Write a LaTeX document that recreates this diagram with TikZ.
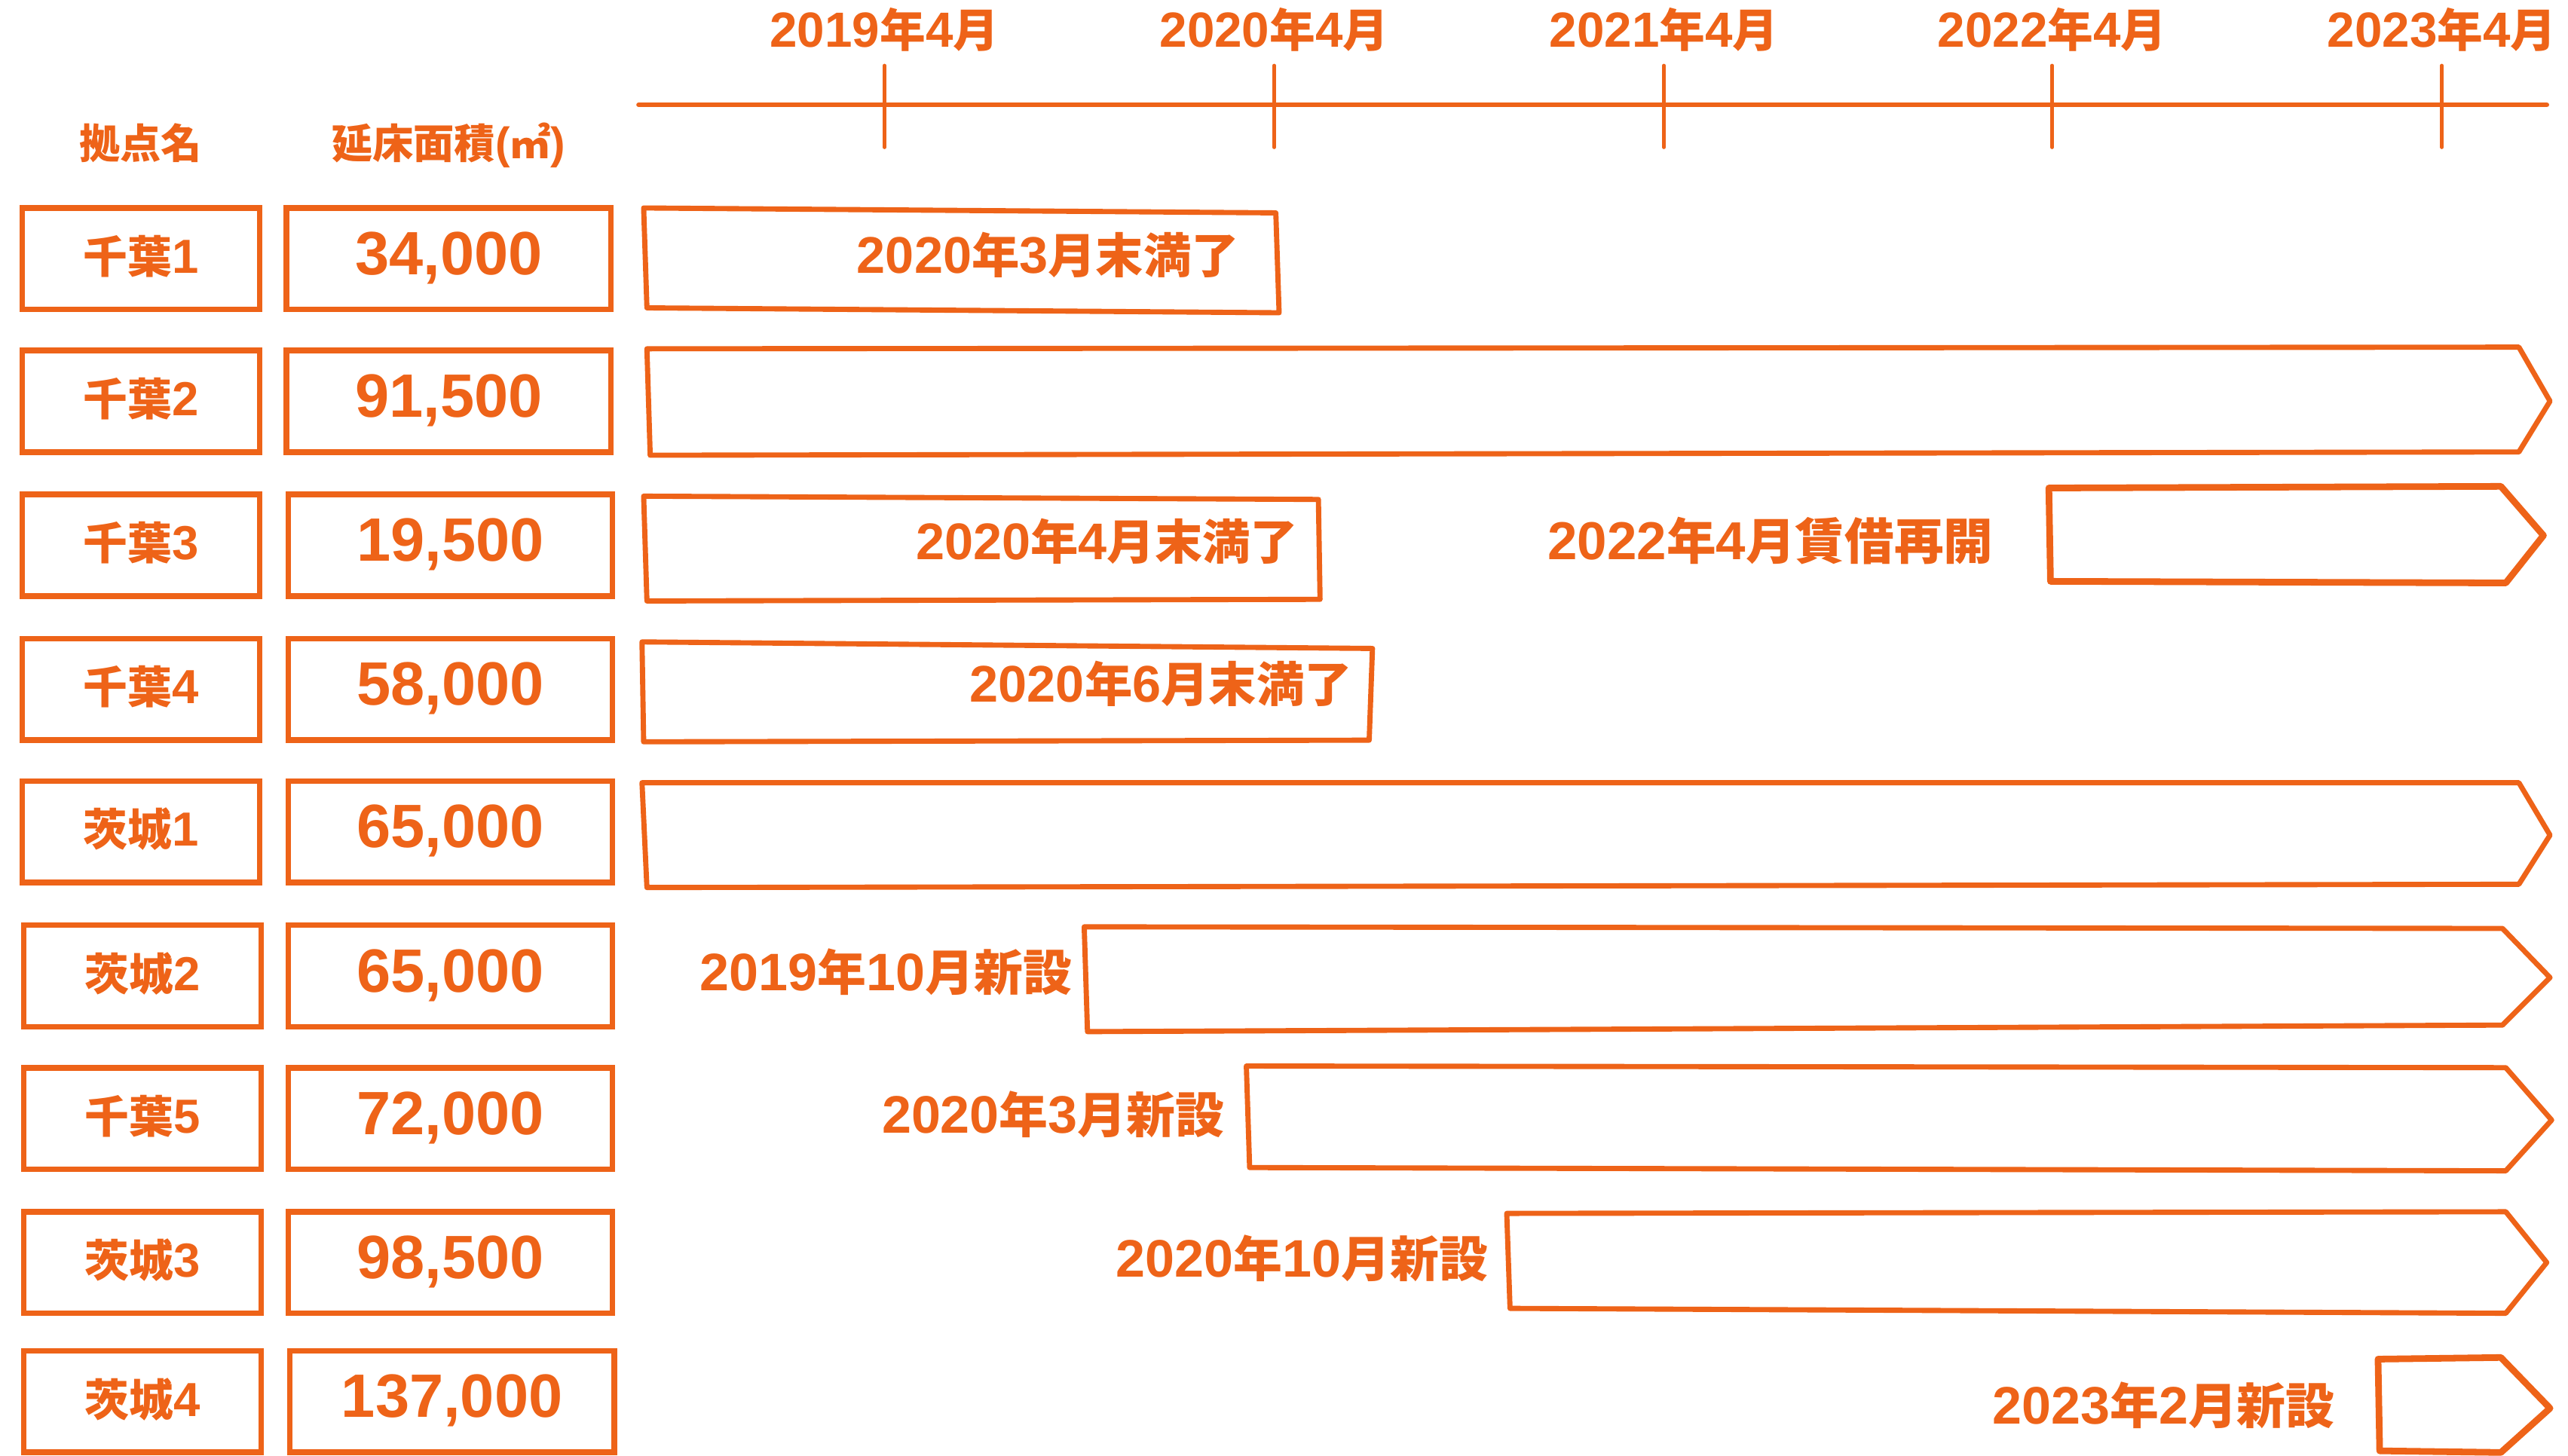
\documentclass[tikz,border=0pt]{standalone}
\usepackage{fontspec}
\setmainfont{Noto Sans CJK JP}
\newfontfamily\latf{Liberation Sans}[Scale=1.08]
\newcommand\ltn[1]{{\latf\bfseries #1}}
\definecolor{og}{RGB}{238,99,24}
\tikzset{
  base/.style={text=og, inner sep=0pt, text height=1.1em, text depth=0.1em},
  txt/.style={base, font=\bfseries\fontsize{15.9}{16}\selectfont},
  hdr/.style={base, font=\bfseries\fontsize{14.2}{15}\selectfont},
  newtxt/.style={base, font=\bfseries\fontsize{17.0}{18}\selectfont},
  endtxt/.style={base, font=\bfseries\fontsize{16.6}{17}\selectfont},
  restxt/.style={base, font=\bfseries\fontsize{17.2}{18}\selectfont},
  namebox/.style={draw=og, line width=2pt, fill=white, inner sep=0pt,
    minimum width=2.9cm, minimum height=1.24cm, text=og,
    text height=1.1em, text depth=0.1em,
    font=\bfseries\fontsize{15.4}{16}\selectfont},
  areabox/.style={draw=og, line width=2pt, fill=white, inner sep=0pt,
    minimum width=3.96cm, minimum height=1.24cm, text=og,
    text height=1.2em, text depth=0.1em,
    font=\bfseries\fontsize{19.7}{20}\selectfont},
  bar/.style={draw=og, line width=1.8pt, line join=round},
  thickbar/.style={draw=og, line width=2.3pt, line join=round},
  axis/.style={draw=og, line width=1.7pt, line cap=round},
  tick/.style={draw=og, line width=1.2pt, line cap=round},
}
\begin{document}
\begin{tikzpicture}[x=0.02cm,y=-0.02cm]
\useasboundingbox[fill=white] (0,0) rectangle (1568,889);

% timeline
\coordinate (axL) at (390,64);
\coordinate (axR) at (1555,64);
\draw[axis] (axL) -- (axR);
\foreach \x/\yr [count=\i] in {540/2019,778/2020,1016/2021,1253/2022,1491/2023}{
  \coordinate (ta\i) at (\x,40);
  \coordinate (tb\i) at (\x,90);
  \draw[tick] (ta\i) -- (tb\i);
  \node[txt] (yl\i) at (\x,20) {\ltn{\yr}年\ltn{4}月};
}

% headers
\node[hdr] (h1) at (86,88) {拠点名};
\node[hdr] (h2) at (274,88) {延床面積\ltn{(}㎡\ltn{)}};

% name and area boxes
\node[namebox] (n1) at (86,158) {千葉\ltn{1}};
\node[areabox] (a1) at (274,158) {\ltn{34,000}};
\node[namebox] (n2) at (86,245) {千葉\ltn{2}};
\node[areabox] (a2) at (274,245) {\ltn{91,500}};
\node[namebox] (n3) at (86,333) {千葉\ltn{3}};
\node[areabox] (a3) at (275,333) {\ltn{19,500}};
\node[namebox] (n4) at (86,421) {千葉\ltn{4}};
\node[areabox] (a4) at (275,421) {\ltn{58,000}};
\node[namebox] (n5) at (86,508) {茨城\ltn{1}};
\node[areabox] (a5) at (275,508) {\ltn{65,000}};
\node[namebox] (n6) at (87,596) {茨城\ltn{2}};
\node[areabox] (a6) at (275,596) {\ltn{65,000}};
\node[namebox] (n7) at (87,683) {千葉\ltn{5}};
\node[areabox] (a7) at (275,683) {\ltn{72,000}};
\node[namebox] (n8) at (87,771) {茨城\ltn{3}};
\node[areabox] (a8) at (275,771) {\ltn{98,500}};
\node[namebox] (n9) at (87,856) {茨城\ltn{4}};
\node[areabox] (a9) at (276,856) {\ltn{137,000}};

% row 1
\draw[bar] (393,127) -- (779,130) -- (781,191) -- (395,188) -- cycle;
\node[endtxt, anchor=east] (e1) at (757,158) {\ltn{2020}年\ltn{3}月末満了};
% row 2
\draw[bar] (395,213) -- (1538,212) -- (1557,245) -- (1538,276) -- (397,278) -- cycle;
% row 3
\draw[bar] (393,303) -- (805,305) -- (806,366) -- (395,367) -- cycle;
\node[endtxt, anchor=east] (e3) at (793,333) {\ltn{2020}年\ltn{4}月末満了};
\node[restxt] (r3) at (1081,333) {\ltn{2022}年\ltn{4}月賃借再開};
\draw[thickbar] (1251,298) -- (1527,297) -- (1553,327) -- (1530,356) -- (1252,355) -- cycle;
% row 4
\draw[bar] (392,392) -- (838,396) -- (836,452) -- (393,453) -- cycle;
\node[endtxt, anchor=east] (e4) at (826,420) {\ltn{2020}年\ltn{6}月末満了};
% row 5
\draw[bar] (392,478) -- (1538,478) -- (1557,510) -- (1538,540) -- (395,542) -- cycle;
% row 6
\node[newtxt, anchor=east] (s6) at (655,596) {\ltn{2019}年\ltn{10}月新設};
\draw[bar] (662,566) -- (1528,567) -- (1557,597) -- (1528,626) -- (664,630) -- cycle;
% row 7
\node[newtxt, anchor=east] (s7) at (748,683) {\ltn{2020}年\ltn{3}月新設};
\draw[bar] (761,651) -- (1530,652) -- (1558,684) -- (1530,715) -- (763,713) -- cycle;
% row 8
\node[newtxt, anchor=east] (s8) at (909,771) {\ltn{2020}年\ltn{10}月新設};
\draw[bar] (920,741) -- (1530,740) -- (1555,771) -- (1530,802) -- (922,799) -- cycle;
% row 9
\node[newtxt, anchor=east] (s9) at (1426,861) {\ltn{2023}年\ltn{2}月新設};
\draw[thickbar] (1452,830) -- (1527,829) -- (1557,860) -- (1527,887) -- (1453,886) -- cycle;
\end{tikzpicture}
\end{document}
